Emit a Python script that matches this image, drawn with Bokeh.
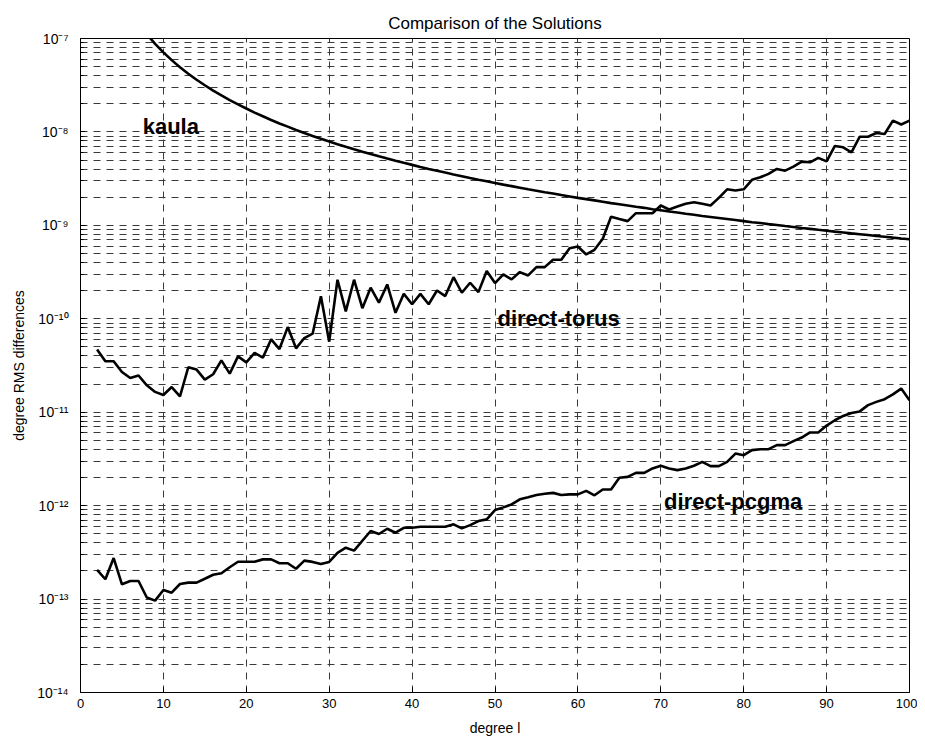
from bokeh.plotting import figure
from bokeh.models import Range1d, FixedTicker, Label
from bokeh.embed import file_html
from bokeh.resources import INLINE

# ---------------- data ----------------
degree = list(range(2, 101))

kaula = [
    1.78e-6, 7.89e-7, 4.44e-7, 2.84e-7, 1.97e-7, 1.45e-7, 1.11e-7, 8.77e-8, 7.10e-8, 5.87e-8,
    4.93e-8, 4.20e-8, 3.62e-8, 3.16e-8, 2.77e-8, 2.46e-8, 2.19e-8, 1.97e-8, 1.78e-8, 1.61e-8,
    1.47e-8, 1.34e-8, 1.23e-8, 1.14e-8, 1.05e-8, 9.74e-9, 9.06e-9, 8.44e-9, 7.89e-9, 7.39e-9,
    6.93e-9, 6.52e-9, 6.14e-9, 5.80e-9, 5.48e-9, 5.19e-9, 4.92e-9, 4.67e-9, 4.44e-9, 4.22e-9,
    4.02e-9, 3.84e-9, 3.67e-9, 3.51e-9, 3.36e-9, 3.21e-9, 3.08e-9, 2.96e-9, 2.84e-9, 2.73e-9,
    2.63e-9, 2.53e-9, 2.43e-9, 2.35e-9, 2.26e-9, 2.19e-9, 2.11e-9, 2.04e-9, 1.97e-9, 1.91e-9,
    1.85e-9, 1.79e-9, 1.73e-9, 1.68e-9, 1.63e-9, 1.58e-9, 1.54e-9, 1.49e-9, 1.45e-9, 1.41e-9,
    1.37e-9, 1.33e-9, 1.30e-9, 1.26e-9, 1.23e-9, 1.20e-9, 1.17e-9, 1.14e-9, 1.11e-9, 1.08e-9,
    1.06e-9, 1.03e-9, 1.01e-9, 9.83e-10, 9.60e-10, 9.38e-10, 9.17e-10, 8.96e-10, 8.77e-10, 8.57e-10,
    8.39e-10, 8.21e-10, 8.04e-10, 7.87e-10, 7.70e-10, 7.55e-10, 7.39e-10, 7.24e-10, 7.10e-10,
]

direct_torus = [
    4.68e-11, 3.51e-11, 3.51e-11, 2.69e-11, 2.32e-11, 2.47e-11, 1.94e-11, 1.65e-11, 1.53e-11, 1.86e-11,
    1.48e-11, 3.03e-11, 2.86e-11, 2.23e-11, 2.55e-11, 3.59e-11, 2.59e-11, 3.96e-11, 3.42e-11, 4.31e-11,
    3.84e-11, 6.03e-11, 4.74e-11, 8.15e-11, 4.83e-11, 6.22e-11, 6.93e-11, 1.74e-10, 5.69e-11, 2.62e-10,
    1.20e-10, 2.62e-10, 1.30e-10, 2.15e-10, 1.49e-10, 2.33e-10, 1.16e-10, 1.85e-10, 1.43e-10, 1.85e-10,
    1.43e-10, 2.01e-10, 1.75e-10, 2.79e-10, 1.90e-10, 2.43e-10, 1.93e-10, 3.24e-10, 2.41e-10, 2.99e-10,
    2.64e-10, 3.16e-10, 2.91e-10, 3.57e-10, 3.57e-10, 4.29e-10, 4.29e-10, 5.70e-10, 5.94e-10, 4.88e-10,
    5.47e-10, 7.18e-10, 1.24e-9, 1.17e-9, 1.11e-9, 1.35e-9, 1.35e-9, 1.35e-9, 1.63e-9, 1.48e-9,
    1.59e-9, 1.70e-9, 1.77e-9, 1.70e-9, 1.63e-9, 1.97e-9, 2.43e-9, 2.36e-9, 2.43e-9, 3.07e-9,
    3.27e-9, 3.56e-9, 4.02e-9, 3.85e-9, 4.26e-9, 4.81e-9, 4.73e-9, 5.27e-9, 4.84e-9, 7.08e-9,
    6.84e-9, 6.05e-9, 8.89e-9, 8.89e-9, 9.75e-9, 9.51e-9, 1.32e-8, 1.20e-8, 1.32e-8,
]

direct_pcgma = [
    2.05e-13, 1.63e-13, 2.75e-13, 1.44e-13, 1.56e-13, 1.56e-13, 1.04e-13, 9.62e-14, 1.25e-13, 1.17e-13,
    1.45e-13, 1.50e-13, 1.50e-13, 1.65e-13, 1.82e-13, 1.89e-13, 2.19e-13, 2.51e-13, 2.51e-13, 2.51e-13,
    2.66e-13, 2.66e-13, 2.42e-13, 2.42e-13, 2.11e-13, 2.58e-13, 2.50e-13, 2.37e-13, 2.50e-13, 3.13e-13,
    3.55e-13, 3.30e-13, 4.21e-13, 5.35e-13, 4.97e-13, 5.66e-13, 5.13e-13, 5.79e-13, 5.79e-13, 5.94e-13,
    5.94e-13, 5.94e-13, 5.94e-13, 6.31e-13, 5.71e-13, 6.19e-13, 6.84e-13, 7.13e-13, 8.96e-13, 9.58e-13,
    1.03e-12, 1.17e-12, 1.23e-12, 1.30e-12, 1.34e-12, 1.37e-12, 1.30e-12, 1.32e-12, 1.32e-12, 1.44e-12,
    1.29e-12, 1.49e-12, 1.49e-12, 1.99e-12, 2.03e-12, 2.24e-12, 2.24e-12, 2.50e-12, 2.67e-12, 2.50e-12,
    2.40e-12, 2.50e-12, 2.67e-12, 2.94e-12, 2.65e-12, 2.65e-12, 2.94e-12, 3.61e-12, 3.47e-12, 3.93e-12,
    4.02e-12, 4.02e-12, 4.44e-12, 4.44e-12, 4.90e-12, 5.36e-12, 6.07e-12, 6.07e-12, 7.20e-12, 8.20e-12,
    9.12e-12, 9.82e-12, 1.02e-11, 1.19e-11, 1.29e-11, 1.38e-11, 1.55e-11, 1.79e-11, 1.34e-11,
]

x_ticks = [0, 10, 20, 30, 40, 50, 60, 70, 80, 90, 100]
y_exponents = [-14, -13, -12, -11, -10, -9, -8, -7]
y_tick_labels = ["10\u207b\u00b9\u2074", "10\u207b\u00b9\u00b3", "10\u207b\u00b9\u00b2", "10\u207b\u00b9\u00b9",
                 "10\u207b\u00b9\u2070", "10\u207b\u2079", "10\u207b\u2078", "10\u207b\u2077"]

title_text = "Comparison of the Solutions"
series_labels = ["kaula", "direct-torus", "direct-pcgma"]
label_x = [7.5, 50.3, 70.4]
label_y = [1.14e-8, 1.0e-10, 1.10e-12]

assert len(kaula) == len(degree) == len(direct_torus) == len(direct_pcgma)

# ---------------- figure ----------------
FONT = "Liberation Sans"
GRID = "#3a3a3a"
DASH = "7 6"

y_major = [10.0 ** e for e in y_exponents]
y_minor = [m * 10.0 ** e for e in y_exponents[:-1] for m in range(2, 10)]

p = figure(width=917, height=738, y_axis_type="log",
           x_range=Range1d(0, 100), y_range=Range1d(1e-14, 1e-7),
           output_backend="svg", toolbar_location=None,
           title=title_text,
           min_border_left=80, min_border_right=8, min_border_top=38, min_border_bottom=45)

p.background_fill_color = "white"
p.border_fill_color = "white"
p.outline_line_color = "black"
p.outline_line_width = 1
p.outline_line_alpha = 1

p.title.align = "center"
p.title.text_font = FONT
p.title.text_font_size = "17px"
p.title.text_font_style = "normal"
p.title.text_color = "black"
p.title.standoff = 12

# axes
p.xaxis.ticker = FixedTicker(ticks=x_ticks)
p.yaxis.ticker = FixedTicker(ticks=y_major, minor_ticks=y_minor)
p.yaxis.major_label_overrides = {v: t for v, t in zip(y_major, y_tick_labels)}

for ax in (p.xaxis[0], p.yaxis[0]):
    ax.axis_line_color = "black"
    ax.major_tick_in = 5
    ax.major_tick_out = 0
    ax.major_tick_line_color = "black"
    ax.major_label_text_font = FONT
    ax.major_label_text_font_size = "13px"
    ax.major_label_text_color = "black"
    ax.axis_label_text_font = FONT
    ax.axis_label_text_font_size = "14px"
    ax.axis_label_text_font_style = "normal"
    ax.axis_label_text_color = "black"

p.xaxis.minor_tick_line_color = None
p.xaxis.major_label_standoff = 6
p.xaxis.axis_label = "degree l"
p.xaxis.axis_label_standoff = 9

p.yaxis.minor_tick_in = 3
p.yaxis.minor_tick_out = 0
p.yaxis.minor_tick_line_color = "black"
p.yaxis.major_label_text_font_size = "14px"
p.yaxis.major_label_standoff = 12
p.yaxis.axis_label = "degree RMS differences"
p.yaxis.axis_label_standoff = 7

# grids (MATLAB-like dashed)
p.xgrid.grid_line_color = GRID
p.xgrid.grid_line_dash = DASH
p.xgrid.grid_line_width = 1
p.ygrid.grid_line_color = GRID
p.ygrid.grid_line_dash = DASH
p.ygrid.grid_line_width = 1
p.ygrid.minor_grid_line_color = GRID
p.ygrid.minor_grid_line_dash = DASH
p.ygrid.minor_grid_line_width = 1

# series
for ys in (kaula, direct_torus, direct_pcgma):
    p.line(degree, ys, line_color="black", line_width=2.6)

for txt, lx, ly in zip(series_labels, label_x, label_y):
    p.add_layout(Label(x=lx, y=ly, text=txt, text_font=FONT, text_font_size="22px",
                       text_font_style="bold", text_color="black",
                       text_baseline="alphabetic", text_align="left"))

open("out.html", "w").write(file_html(p, INLINE))
